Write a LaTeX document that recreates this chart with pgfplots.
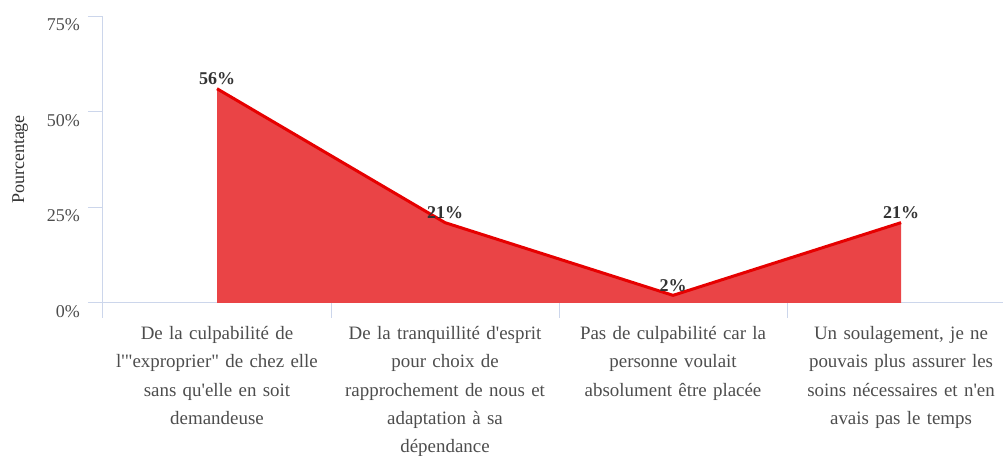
\documentclass[border=0pt]{standalone}
\usepackage{pgfplots}
\pgfplotsset{compat=1.18}
\usepackage{fontspec}
\setmainfont{Liberation Serif}[Ligatures=TeXOff]
\definecolor{axisline}{HTML}{CCD6EB}
\definecolor{areafill}{HTML}{EA4446}
\definecolor{arealine}{HTML}{E60000}
\definecolor{labeltext}{HTML}{4D4D4D}
\definecolor{valtext}{HTML}{333333}

\begin{document}
\begin{tikzpicture}
% page = 1004 x 456 px at 0.75pt per px, axis origin at px (103,303)
\path[use as bounding box] (-77.25pt,-114.75pt) rectangle (675.75pt,227.25pt);
\begin{axis}[
    scale only axis,
    width=675pt, height=215.25pt,
    xmin=-0.5, xmax=3.447,
    ymin=0, ymax=75,
    clip=false,
    /pgf/number format/assume math mode=true,
    axis x line=bottom, axis y line=left,
    axis line style={axisline, line width=0.75pt, -},
    tick align=outside,
    major tick length=11.25pt,
    tick style={axisline, line width=0.75pt},
    xtick={-0.5,0.5,1.5,2.5},
    xticklabels={},
    extra x ticks={0,1,2,3},
    extra x tick style={major tick length=0pt},
    extra x tick labels={
        {De la culpabilité de\\l'"exproprier" de chez elle\\sans qu'elle en soit\\demandeuse},
        {De la tranquillité d'esprit\\pour choix de\\rapprochement de nous et\\adaptation à sa\\dépendance},
        {Pas de culpabilité car la\\personne voulait\\absolument être placée},
        {Un soulagement, je ne\\pouvais plus assurer les\\soins nécessaires et n'en\\avais pas le temps}
    },
    xticklabel style={font=\fontsize{14.2pt}{21.2pt}\selectfont, text width=160pt,
        align=center, anchor=north, text=labeltext, yshift=-14pt},
    ytick={0,25,50,75},
    yticklabel={\pgfmathprintnumber{\tick}\%},
    yticklabel style={font=\fontsize{13.5pt}{15pt}\selectfont, text=labeltext,
        yshift=-6.5pt, xshift=-2.5pt},
    ylabel={Pourcentage},
    ylabel style={at={(axis description cs:-0.092,0.5)}, anchor=center,
        font=\fontsize{13.5pt}{15pt}\selectfont, text=valtext},
]
\addplot[fill=areafill, draw=none] coordinates {(0,56) (1,21) (2,2) (3,21)} \closedcycle;
\addplot[arealine, line width=2.25pt, line join=round,
    nodes near coords={\pgfmathprintnumber{\pgfplotspointmeta}\%},
    every node near coord/.append style={font=\bfseries\fontsize{13.5pt}{15pt}\selectfont,
        text=valtext, anchor=south, inner sep=1.5pt}]
    coordinates {(0,56) (1,21) (2,2) (3,21)};
\end{axis}
\end{tikzpicture}
\end{document}
